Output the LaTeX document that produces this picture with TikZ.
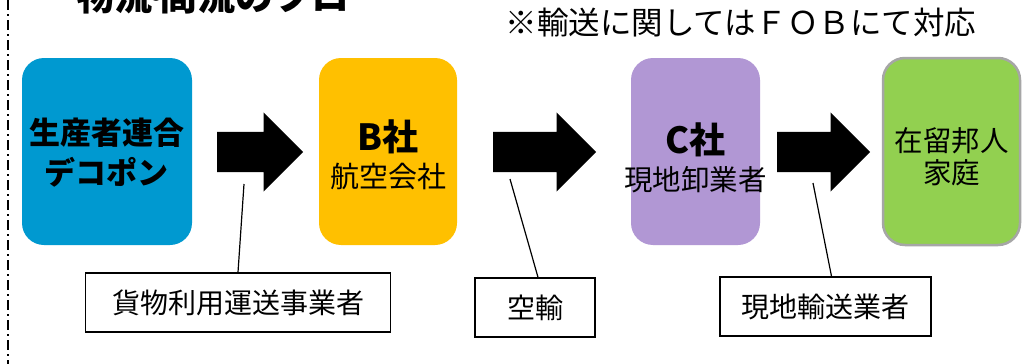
\documentclass[tikz,border=0pt]{standalone}
\usepackage{fontspec}
\setmainfont{Noto Sans CJK JP}
\usetikzlibrary{shapes.arrows}

\definecolor{prodblue}{RGB}{0,153,208}
\definecolor{airyellow}{RGB}{255,192,0}
\definecolor{wholepurple}{RGB}{177,151,212}
\definecolor{homegreen}{RGB}{146,208,80}
\definecolor{homeedge}{RGB}{166,166,166}

\tikzset{
  firm/.style={rounded corners=22pt, minimum height=187pt, inner sep=0pt},
  firmtext/.style={align=center, inner sep=0pt},
  flow/.style={single arrow, fill=black, inner xsep=0pt, inner ysep=20pt,
    single arrow head extend=19.5pt, anchor=tail},
  agent/.style={draw=black, line width=1.5pt, fill=white, minimum height=59pt,
    inner sep=0pt, font=\fontsize{28}{32}\selectfont},
  lead/.style={line width=1.2pt}
}

\begin{document}
\begin{tikzpicture}[x=1pt,y=-1pt]
\path[use as bounding box, fill=white] (0,0) rectangle (1029,364);
% left border line
\draw [black, line width=1.6pt, dash pattern=on 10pt off 4pt on 2pt off 4pt] (8,0) -- (8,364);
% title (cut at the top of the page)
\node [anchor=base west, inner sep=0pt, font=\bfseries\fontsize{38}{40}\selectfont] (title) at (76,10) {物流\hspace{-0.4em}・\hspace{-0.4em}商流のフロー};
\node [inner sep=0pt, font=\fontsize{31.5}{36}\selectfont] (fob) at (741,23) {※輸送に関してはＦＯＢにて対応};

% companies
\node [firm, fill=prodblue, minimum width=170pt] (prod) at (107,151.5) {};
\node [firm, fill=airyellow, minimum width=138pt] (air) at (388,151.5) {};
\node [firm, fill=wholepurple, minimum width=129pt] (whole) at (695.5,151.5) {};
\node [firm, fill=homegreen, draw=homeedge, line width=2.5pt, minimum width=137pt] (home) at (951.5,151.5) {};

\node [firmtext, font=\bfseries\fontsize{31}{40}\selectfont] (prodT) at (107,152.5) {生産者連合\\デコポン};
\node [firmtext, font=\fontsize{29}{37}\selectfont] (airT) at (388,155) {{\bfseries\fontsize{36}{37}\selectfont B社}\\航空会社};
\node [firmtext, font=\fontsize{28.5}{37}\selectfont] (wholeT) at (695.5,157.5) {{\bfseries\fontsize{36}{37}\selectfont C社}\\現地卸業者};
\node [firmtext, font=\fontsize{28.5}{32}\selectfont] (homeT) at (951.5,156.5) {在留邦人\\家庭};

% flows
\node [flow, minimum height=86pt] (f1) at (217,152) {};
\node [flow, minimum height=103pt] (f2) at (493,152) {};
\node [flow, minimum height=93pt] (f3) at (777,152) {};

% carriers
\node [agent, minimum width=305pt] (lblA) at (238,302.5) {貨物利用運送事業者};
\node [agent, minimum width=120pt] (lblB) at (535,307.5) {空輸};
\node [agent, minimum width=211pt] (lblC) at (825.5,306.5) {現地輸送業者};

\coordinate (fA) at (244,184);
\coordinate (fB) at (510,179);
\coordinate (fC) at (813,183);
\draw [lead] (fA) -- (lblA.north);
\draw [lead] (fB) -- ([xshift=3pt]lblB.north);
\draw [lead] (fC) -- ([xshift=6pt]lblC.north);
\end{tikzpicture}
\end{document}
